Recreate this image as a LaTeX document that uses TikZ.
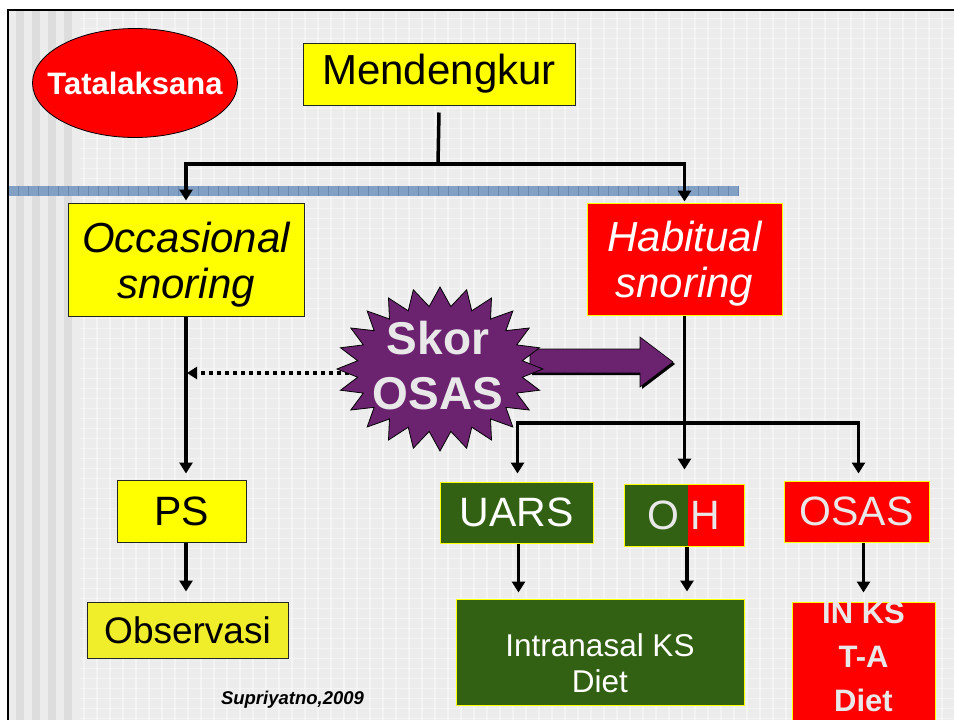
\documentclass[tikz,border=0pt]{standalone}
\usepackage{fontspec}
\setmainfont{Liberation Sans}
\usetikzlibrary{arrows.meta,shapes.geometric}
\definecolor{yel}{RGB}{255,255,0}
\definecolor{obsyel}{RGB}{240,238,42}
\definecolor{rd}{RGB}{255,0,0}
\definecolor{grn}{RGB}{51,97,20}
\definecolor{purp}{RGB}{107,35,112}
\definecolor{lgray}{RGB}{232,232,232}
\definecolor{bg}{RGB}{236,236,236}
\definecolor{stripeA}{RGB}{236,236,236}
\definecolor{stripeB}{RGB}{221,221,221}
\definecolor{barblue}{RGB}{130,160,196}
\definecolor{barline}{RGB}{105,135,175}
\begin{document}
\begin{tikzpicture}[x=1pt,y=-1pt,
  conn/.style={line width=3.5pt, line join=miter},
  arr/.style={conn, -{Triangle[length=11pt,width=13pt]}},
  box/.style={rectangle, inner sep=0pt, line width=1pt},
  ybox/.style={box, fill=yel, draw=black!85},
  rbox/.style={box, fill=rd, draw=yel},
  gbox/.style={box, fill=grn, draw=yel},
  bigtxt/.style={font=\fontsize{41}{46}\selectfont},
]
\useasboundingbox (0,0) rectangle (954,720);
\begin{scope}
\clip (0,0) rectangle (954,720);
% background
\fill[white] (0,0) rectangle (954,720);
\fill[bg] (8,10) rectangle (954,720);
\foreach \x in {84,97,...,954} \draw[white, line width=1.2pt, opacity=.4] (\x,10) -- (\x,720);
\foreach \y in {18,28,...,720} \draw[white, line width=1pt, opacity=.4] (8,\y) -- (954,\y);
\foreach \x in {8,24,40,56,72} \fill[stripeA] (\x,10) rectangle (\x+8,720);
\foreach \x in {16,32,48,64} \fill[stripeB] (\x,10) rectangle (\x+8,720);
\draw[line width=2pt] (8,720) -- (8,10) -- (954,10);
% blue bar
\fill[barblue] (9,186) rectangle (738,196);
\foreach \x in {18,28,...,738} \draw[barline, line width=0.6pt] (\x,186) -- (\x,196);

% nodes
\node[ellipse, fill=rd, draw=black, line width=0.8pt, minimum width=205pt, minimum height=109pt, inner sep=0pt] (tat) at (135,83) {};
\node[inner sep=0pt, text=white, font=\fontsize{31}{36}\selectfont\bfseries] (tattxt) at (tat.center) {Tatalaksana};
\node[ybox, minimum width=272pt, minimum height=62pt, font=\fontsize{42}{46}\selectfont] (mend) at (439,74) {Mendengkur};
\node[ybox, minimum width=236pt, minimum height=113pt, align=center, font=\fontsize{42}{46}\selectfont\itshape] (occ) at (186,259.5) {\rule{0pt}{40pt}Occasional\\snoring};
\node[rbox, minimum width=195pt, minimum height=112pt, align=center, text=white, font=\fontsize{42}{46}\selectfont\itshape] (hab) at (684.5,259) {\rule{0pt}{40pt}Habitual\\snoring};
\node[ybox, minimum width=129pt, minimum height=62pt, bigtxt] (ps) at (181.5,511) {PS};
\node[gbox, minimum width=153pt, minimum height=61pt, bigtxt, text=white] (uars) at (516.5,512.5) {UARS};
\node[rbox, minimum width=120pt, minimum height=62pt, bigtxt, text=lgray,
  path picture={\fill[grn] (path picture bounding box.north west) rectangle ([xshift=64pt]path picture bounding box.south west);}] (oh) at (684,515) {O H};
\node[rbox, minimum width=145pt, minimum height=61pt, bigtxt, text=lgray] (osas) at (856.5,511.5) {OSAS};
\node[box, fill=obsyel, draw=black!85, minimum width=201pt, minimum height=56pt, font=\fontsize{37}{42}\selectfont] (obs) at (187.5,630) {Observasi};
\node[gbox, minimum width=288pt, minimum height=106pt] (intr) at (600,652) {};
\node[align=center, text=white, inner sep=0pt, font=\fontsize{31.5}{36}\selectfont] (intrtxt) at (600,663.5) {Intranasal KS\\Diet};
\node[rbox, minimum width=143pt, minimum height=128pt] (inks) at (863.5,666) {};
\node[align=center, text=lgray, inner sep=0pt, font=\fontsize{31}{44}\selectfont\bfseries] (inkstxt) at (863.5,656.5) {IN KS\\T-A\\Diet};
\node[inner sep=0pt, font=\fontsize{18.5}{22}\selectfont\bfseries\itshape] (src) at (292.5,699.5) {Supriyatno,2009};

% connectors
\coordinate (j1) at (438,164);
\coordinate (j2) at (684.5,423);
\draw[conn] ([yshift=-7pt]mend.south) -- (j1);
\draw[arr, shorten >=2pt] (j1) -| (occ.north);
\draw[arr, shorten >=1pt] (j1) -| (hab.north);
\draw[arr, shorten >=6pt] (occ.south) -- (occ.south |- ps.north);
\draw[arr, shorten >=10pt] (occ.south |- ps.south) -- (occ.south |- obs.north);
\draw[arr, shorten >=14pt] (hab.south) -- (hab.south |- oh.north);
\draw[arr, shorten >=8pt] (j2) -| ([xshift=1pt]uars.north);
\draw[arr, shorten >=7pt] (j2) -| ([xshift=2pt]osas.north);
\draw[arr, shorten >=6pt] ([xshift=2pt]uars.south) -- ([xshift=2pt]uars.south |- intr.north);
\draw[arr, shorten >=7pt] ([xshift=3pt]oh.south) -- ([xshift=3pt]oh.south |- intr.north);
\draw[arr, shorten >=9pt] (inks.north |- osas.south) -- (inks.north);

% dotted arrow
\coordinate (dots) at (365,373);
\draw[line width=3.5pt, dash pattern=on 4pt off 4pt, -{Triangle[length=10pt,width=12pt]}, shorten >=1pt] (dots) -- (occ.south |- dots);

% block arrow
\fill[black] (532,351) -- (642,351) -- (642,339) -- (675,364) -- (642,389) -- (642,375) -- (532,375) -- cycle;
\draw[fill=purp, line width=0.6pt] (530,349) -- (640,349) -- (640,337) -- (673,362) -- (640,387) -- (640,373) -- (530,373) -- cycle;

% star
\begin{scope}[shift={(440,369)}]
\draw[fill=purp, line width=0.8pt] (103,0) \foreach \i in {1,...,47} { -- ({cos(\i*7.5)*(mod(\i,2)==0 ? 103 : 83)}, {sin(\i*7.5)*(mod(\i,2)==0 ? 82 : 63)}) } -- cycle;
\end{scope}
\node[align=center, text=lgray, inner sep=0pt, font=\fontsize{46}{55}\selectfont\bfseries] (skor) at (438,365.5) {Skor\\OSAS};
\end{scope}
\end{tikzpicture}
\end{document}
